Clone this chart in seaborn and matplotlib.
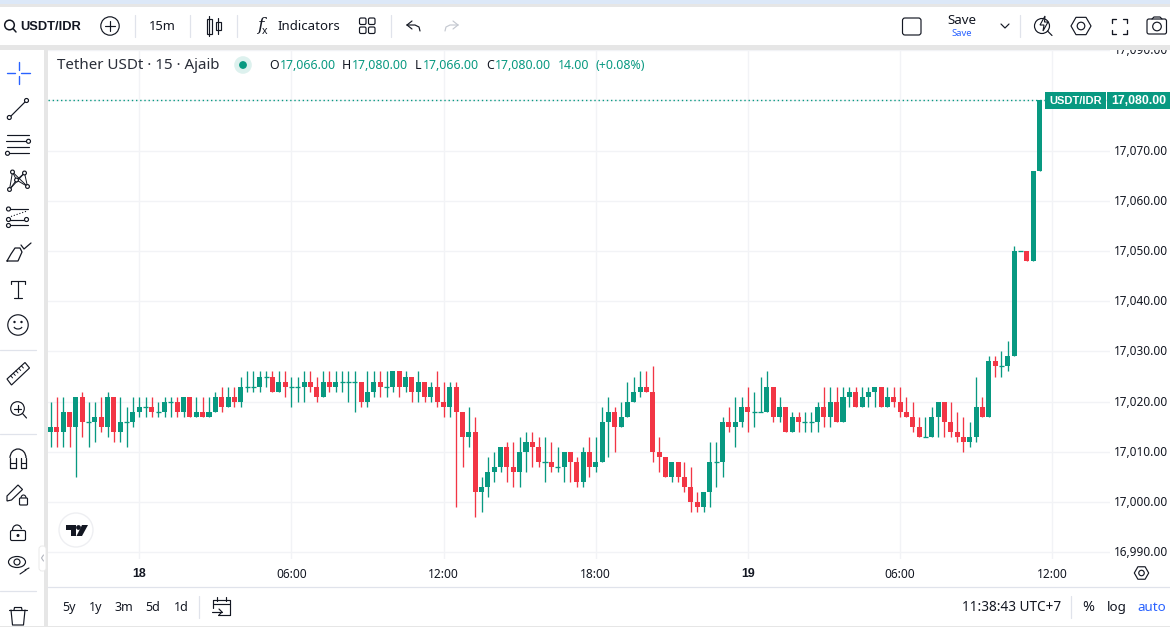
import numpy as np
import pandas as pd
import seaborn as sns
import matplotlib
matplotlib.use("Agg")
import matplotlib.pyplot as plt
from matplotlib.patches import Circle, Rectangle, FancyBboxPatch, Polygon, Ellipse, Arc
from matplotlib.transforms import ScaledTranslation

# ---------- data (offsets from BASE_PRICE) ----------
BASE_PRICE = 17000
closes = [15,14,18,15,21,16,16,17,15,21,
          14,16,16,18,19,19,18,18,20,20,
          18,21,17,18,17,18,21,19,21,20,
          23,23,23,25,25,22,24,23,23,23,
          24,23,21,24,23,24,24,24,24,20,
          22,24,23,23,26,23,25,22,24,21,
          23,20,19,23,18,13,14,2,3,6,
          7,11,7,6,10,12,11,8,8,7,
          7,10,8,4,10,7,8,16,18,15,
          17,20,22,23,22,10,9,5,8,5,
          3,0,-1,2,8,8,16,15,16,19,
          18,18,18,23,17,19,14,17,16,16,
          16,19,17,20,16,21,22,19,21,22,
          23,19,21,20,18,17,15,13,13,17,
          20,16,14,13,12,13,19,17,28,27,
          27,29,50,50,48,66,80]
opens = [14,15,14,18,15,21,16,16,17,15,
         21,14,16,16,18,19,19,18,18,20,
         20,18,21,17,18,17,18,21,19,21,
         20,23,23,23,25,25,22,24,23,23,
         23,24,23,21,24,23,24,24,24,24,
         20,22,24,23,23,26,23,25,22,24,
         21,23,20,19,23,18,13,14,2,3,
         6,7,11,7,6,10,12,11,8,8,
         7,7,10,8,4,10,7,8,16,18,
         15,17,20,22,23,22,10,9,5,8,
         5,3,0,-1,2,8,8,16,15,16,
         19,18,18,18,23,17,19,14,17,16,
         16,16,19,17,20,16,21,22,19,21,
         22,23,19,21,20,18,17,15,13,13,
         17,20,16,14,13,12,13,19,17,28,
         27,27,29,50,50,48,66]
highs = [20,21,21,18,21,22,20,20,21,22,
         21,21,19,21,21,21,21,20,21,21,
         21,21,21,21,21,21,22,23,23,23,
         25,26,26,26,26,26,26,26,25,25,
         26,26,25,26,26,26,26,26,26,24,
         26,26,26,26,26,26,26,25,26,24,
         24,26,24,24,24,18,19,17,5,9,
         10,11,12,12,13,14,14,13,13,12,
         11,10,10,9,11,13,13,19,21,19,
         20,24,25,26,26,27,13,9,8,8,
         8,7,2,2,12,12,17,19,21,21,
         23,22,25,26,23,21,19,18,18,18,
         18,20,23,23,23,23,23,23,23,23,
         23,23,23,23,23,21,20,17,17,19,
         20,20,20,18,17,16,25,21,29,29,
         30,32,51,50,50,66,80]
lows = [11,11,11,11,5,13,11,12,14,13,
        12,12,11,15,17,17,17,17,17,17,
        17,17,17,17,17,17,18,18,19,19,
        19,22,22,22,23,22,22,21,19,20,
        20,22,20,21,22,22,22,20,18,19,
        19,21,21,21,22,21,22,20,20,20,
        20,19,17,17,-1,7,11,-3,-2,1,
        4,6,4,3,3,6,7,7,4,6,
        6,4,4,3,3,5,6,8,9,10,
        15,17,20,21,22,8,6,5,4,4,
        2,-2,-2,-2,-1,3,5,14,11,15,
        14,15,18,18,16,16,14,14,14,14,
        14,14,15,15,16,16,19,19,19,19,
        19,19,19,19,17,17,14,13,13,13,
        13,13,13,12,10,11,12,17,17,25,
        25,26,29,50,48,48,66]

price_ticks = [16990,17000,17010,17020,17030,17040,17050,17060,17070,17080,17090]
time_ticks = [14,38,62,86,110,134,158]
time_labels = ["18","06:00","12:00","18:00","19","06:00","12:00"]
last_price = 17080
symbol = "USDT/IDR"
range_labels = ["5y","1y","3m","5d","1d"]

# ---------- styles ----------
UP, DOWN = "#089981", "#F23645"
INK, GRID, CHROME, BLUE = "#131722", "#F2F3F6", "#E6E6E6", "#2962FF"
BOLD = "Liberation Sans"
W, H = 1170, 627
sns.set_theme(style="white")
plt.rcParams["font.family"] = ["Noto Sans", "DejaVu Sans"]

df = pd.DataFrame({"i": np.arange(len(closes)), "o": opens, "h": highs, "l": lows, "c": closes})
for col in "ohlc":
    df[col] = df[col] + BASE_PRICE
df["bottom"] = df[["o", "c"]].min(axis=1)
df["height"] = (df.c - df.o).abs()
df["rising"] = df.c >= df.o

fig = plt.figure(figsize=(W / 100, H / 100), dpi=100, facecolor="white")

# main chart pane, in pixels: x 48..1110, y 49..559
L, R, T, B = 48, 1110, 49, 559
ax = fig.add_axes([L / W, 1 - B / H, (R - L) / W, (B - T) / H], zorder=1)
px_x = lambda p: (p - 50.5) / 6.34
px_y = lambda p: 17080 + (100.3 - p) / 5.022

for flag, colour in [(True, UP), (False, DOWN)]:
    part = df[df.rising == flag]
    ax.vlines(part.i, part.l, part.h, color=colour, lw=0.95, zorder=3)
    sns.barplot(data=part, x="i", y="height", bottom=part.bottom.values, native_scale=True,
                color=colour, saturation=1, width=0.79, errorbar=None, linewidth=0, ax=ax, zorder=4)
    flat = part[part.height == 0]
    ax.hlines(flat.o, flat.i - 0.4, flat.i + 0.4, color=colour, lw=0.95, zorder=4)

ax.set_xlim(px_x(L), px_x(R))
ax.set_ylim(px_y(B), px_y(T))
ax.set_xlabel(""); ax.set_ylabel("")
ax.set_xticks(time_ticks)
ax.set_xticklabels(time_labels)
for lab in ax.get_xticklabels():
    lab.set_fontsize(8.6); lab.set_color(INK)
    if len(lab.get_text()) == 2:
        lab.set_fontweight("bold"); lab.set_family(BOLD); lab.set_fontsize(8.9)
ax.yaxis.tick_right()
ax.set_yticks(price_ticks)
# the 17,080.00 level is shown by the last-price tag that sits on the axis
ax.set_yticklabels(["" if p == last_price else f"{p:,.2f}" for p in price_ticks], fontsize=8.5, color=INK)
ax.tick_params(axis="both", length=0)
ax.tick_params(axis="x", pad=6.5)
ax.tick_params(axis="y", pad=3)
lift = ScaledTranslation(0, 1 / 100, fig.dpi_scale_trans)
for lab in ax.get_yticklabels():
    lab.set_transform(lab.get_transform() + lift)
ax.grid(True, color=GRID, lw=1)
ax.set_axisbelow(True)
for s in ax.spines.values():
    s.set_visible(False)
ax.axhline(last_price, color=UP, lw=1, ls=(0, (1, 2)), zorder=2)

# ---------- interface chrome, in pixel coordinates ----------
ui = fig.add_axes([0, 0, 1, 1], zorder=5)
ui.set_xlim(0, W); ui.set_ylim(H, 0)
ui.axis("off"); ui.patch.set_alpha(0)

def box(x0, y0, x1, y1, fc, z=1):
    ui.add_patch(Rectangle((x0, y0), x1 - x0, y1 - y0, fc=fc, ec="none", zorder=z))
def ln(xs, ys, c=INK, lw=0.85, z=3, **k):
    ui.plot(xs, ys, color=c, lw=lw, zorder=z, solid_capstyle="round", **k)
def circ(x, y, r, fc="white", ec=INK, lw=0.85, z=3):
    ui.add_patch(Circle((x, y), r, fc=fc, ec=ec, lw=lw, zorder=z))
def rbox(x0, y0, x1, y1, r=2, fc="none", ec=INK, lw=0.85, z=3):
    ui.add_patch(FancyBboxPatch((x0 + r, y0 + r), x1 - x0 - 2 * r, y1 - y0 - 2 * r,
                                boxstyle=f"round,pad={r},rounding_size={r}", fc=fc, ec=ec, lw=lw, zorder=z))
def hexa(x, y, r, lw=0.85):
    a = np.deg2rad(np.arange(0, 360, 60))
    ui.add_patch(Polygon(np.c_[x + r * np.cos(a), y + r * np.sin(a)], closed=True, fc="none", ec=INK, lw=lw, zorder=3, joinstyle="round"))
    circ(x, y, r * 0.38, fc="none", lw=lw)
def txt(x, y, s, size=9, c=INK, ha="left", **k):
    ui.text(x, y + 1, s, fontsize=size, color=c, ha=ha, va="center", zorder=4, **k)

box(0, 0, W, 3.5, "#DCE8F8")
box(0, 3.5, W, 7, CHROME)
box(0, 7, W, 45, "white")
box(0, 45, W, 49.5, CHROME)
box(0, 49.5, 44, 627, "white")
box(44, 49.5, 48, 627, CHROME)
box(48, 587, W, 626, "white")
ln([48, W], [587.3, 587.3], c="#E0E3EB", lw=0.9)
box(0, 626, W, 627, CHROME)

# top toolbar
circ(9.5, 25, 4.8, fc="none", lw=1.1); ln([13, 16], [28.5, 32], lw=1.1)
txt(20, 25.5, symbol, 9.3, weight="bold", family=BOLD)
circ(110, 26, 9.2, fc="none"); ln([105, 115], [26, 26]); ln([110, 110], [21, 31])
for xs in (134.5, 189.5, 236.5, 390.5, 1019.5):
    ln([xs, xs], [15, 37], c="#E0E3EB", lw=0.9)
txt(162, 25.5, "15m", 9.3, ha="center")
ui.add_patch(Rectangle((207, 19), 4.5, 15, fc="none", ec=INK, lw=0.85, zorder=3)); ln([209.2, 209.2], [16, 36])
ui.add_patch(Rectangle((216, 22), 4.5, 8, fc="none", ec=INK, lw=0.85, zorder=3)); ln([218.2, 218.2], [18, 34])
txt(257, 24.5, "f", 12.5, family="DejaVu Serif", style="italic"); txt(262, 30, "x", 7.5)
txt(277, 25.5, "Indicators", 9.5)
for x0 in (359.5, 368.5):
    for y0 in (18, 27):
        rbox(x0, y0, x0 + 6.5, y0 + 6.5, r=1.5)
ln([407, 412], [25, 21]); ln([407, 412], [25, 29]); ln([407, 415, 419, 420], [25, 25, 27, 31])
ln([458, 453], [25, 21], c="#C4C8D0"); ln([458, 453], [25, 29], c="#C4C8D0"); ln([458, 450, 446, 445], [25, 25, 27, 31], c="#C4C8D0")
rbox(902.5, 18, 921, 35, r=2.5)
txt(962, 20, "Save", 9.6, ha="center")
txt(962, 33, "Save", 6.8, c=BLUE, ha="center")
ln([1001, 1005, 1009], [24, 28, 24])
circ(1042, 26, 7.5, fc="none"); ln([1047.5, 1052], [31, 35.5])
ui.add_patch(Polygon([[1045, 16], [1040, 25], [1044, 25], [1043, 31], [1048, 22], [1044.5, 22]], closed=True, fc="white", ec=INK, lw=0.8, zorder=4))
hexa(1081, 26, 10)
for sx, sy in [(-1, -1), (1, -1), (-1, 1), (1, 1)]:
    cx, cy = 1119 + sx * 7.5, 26 + sy * 7.5
    ln([cx, cx, cx - sx * 4], [cy - sy * 4, cy, cy], lw=0.95)
rbox(1147, 19, 1166.5, 34, r=2)
circ(1157, 26.5, 4.3, fc="none")
ln([1152, 1154, 1160, 1162], [19, 17, 17, 19])

# legend
txt(57, 64.5, "Tether USDt · 15 · Ajaib", 10.9, c="#2A2E39")
circ(243, 65, 8.8, fc="#DDF1EE", ec="none"); circ(243, 65, 3.9, fc=UP, ec="none")
for x, s, c in [(269, "O", INK), (279.5, "17,066.00", UP), (342, "H", INK), (352, "17,080.00", UP),
                (415, "L", INK), (423, "17,066.00", UP), (486, "C", INK), (495, "17,080.00", UP),
                (558, "14.00", UP), (595, "(+0.08%)", UP)]:
    txt(x, 64.5, s, 8.9, c=c)

# last-price tags
box(1045, 92, 1106, 109, UP, z=2)
box(1107, 92, W, 109, UP, z=2)
txt(1075.5, 99.5, symbol, 8.0, c="white", ha="center", weight="bold", family=BOLD)
txt(1139, 99.5, f"{last_price:,.2f}", 8.9, c="white", ha="center", weight="bold", family=BOLD)

# logo
circ(76, 530, 17, fc="white", ec="#EEEFF2", lw=1)
ui.add_patch(Polygon([[66, 525], [76, 525], [76, 536], [71, 536], [71, 530], [66, 530]], closed=True, fc=INK, ec="none", zorder=4))
circ(78.5, 527.5, 2.4, fc=INK, ec="none", z=4)
ui.add_patch(Polygon([[82, 525], [88, 525], [82, 536], [76.5, 536]], closed=True, fc=INK, ec="none", zorder=4))

# left toolbar
ln([7, 15], [73, 73], c=BLUE, lw=1); ln([21, 30], [73, 73], c=BLUE, lw=1)
ln([18.5, 18.5], [62, 70], c=BLUE, lw=1); ln([18.5, 18.5], [76, 84], c=BLUE, lw=1)
ln([9.5, 26.5], [117.5, 100.5]); circ(9.3, 117.5, 2); circ(26.5, 100.5, 2)
for y in (135, 147): ln([7, 29], [y, y])
ln([6, 29], [141, 141]); circ(28.5, 141.3, 2)
ln([7, 29], [153, 153]); circ(7.5, 153.3, 2)
net = [(9.5, 189.5), (12.5, 172), (16.5, 180), (24.5, 173), (27.5, 186.5)]
for a, b in [(0, 1), (0, 2), (1, 2), (1, 4), (2, 3), (3, 4), (0, 3), (2, 4)]:
    ln([net[a][0], net[b][0]], [net[a][1], net[b][1]], lw=0.7)
for x, y in net: circ(x, y, 1.9)
ln([8, 28], [209, 209]); circ(8.5, 209, 2)
ln([8, 26], [219.5, 219.5]); circ(8.5, 219.5, 2); circ(26.5, 219.5, 2)
ln([8, 28], [225, 225]); circ(8.5, 225.5, 2)
ln([11, 27], [216.5, 211], ls=":", lw=0.8)
ln([7, 11, 15, 20, 22, 18, 7], [261, 254, 248, 248, 252, 261, 261], lw=0.9)
ln([21, 24, 31], [245, 249, 243], lw=0.9)
ln([11, 25], [281, 281]); ln([18, 18], [281, 298]); ln([14, 22], [298, 298]); ln([11, 11], [281, 284]); ln([25, 25], [281, 284])
circ(18, 325, 10.2, fc="none"); circ(14.5, 322, 0.6, fc=INK); circ(21.5, 322, 0.6, fc=INK)
ui.add_patch(Arc((18, 325.5), 9, 7, theta1=20, theta2=160, ec=INK, lw=0.85, zorder=3))
for y in (350, 434, 591): ln([0, 36], [y, y], c="#E0E3EB", lw=0.9)
ui.add_patch(Polygon([[7, 379], [25, 362.5], [29.5, 368], [11.5, 385]], closed=True, fc="none", ec=INK, lw=0.85, zorder=3))
for t in (0.2, 0.35, 0.5, 0.65, 0.8):
    bx, by = 7 + 18 * t, 379 - 16.5 * t
    ln([bx, bx + 2], [by, by + 2.2], lw=0.7)
circ(17.5, 408.5, 6.8, fc="none"); ln([22.5, 26.5], [413.5, 418]); ln([14, 21], [408.5, 408.5]); ln([17.5, 17.5], [405, 412])
ui.add_patch(Arc((18, 458), 16, 18, theta1=180, theta2=360, ec=INK, lw=0.9, zorder=3))
ln([10, 10, 15.5, 15.5], [458, 468, 468, 458], lw=0.9); ln([20.5, 20.5, 26, 26], [458, 468, 468, 458], lw=0.9)
ln([10, 15.5], [463, 463], lw=0.8); ln([20.5, 26], [463, 463], lw=0.8)
ui.add_patch(Polygon([[7, 496], [18, 485], [22.5, 489.5], [11.5, 500], [7, 501]], closed=True, fc="none", ec=INK, lw=0.85, zorder=3))
rbox(19.5, 498, 27.5, 505, r=1); ui.add_patch(Arc((23.5, 498), 5, 6, theta1=180, theta2=360, ec=INK, lw=0.8, zorder=3))
rbox(10.5, 530.5, 25.5, 540.5, r=1.5); circ(18, 535.5, 0.9, fc=INK)
ui.add_patch(Arc((17, 530), 9, 10, theta1=180, theta2=350, ec=INK, lw=0.85, zorder=3))
ui.add_patch(Ellipse((17, 562), 17, 11, fc="none", ec=INK, lw=0.85, zorder=3)); circ(17, 562, 3, fc="none")
ln([20, 26], [574, 570], lw=0.8); ln([25, 29], [570, 568], lw=0.8)
ln([9, 27], [610, 610]); ln([14, 14.5, 21.5, 22], [610, 607.5, 607.5, 610])
ln([11, 12.5, 23.5, 25], [610, 625, 625, 610])
rbox(39, 546, 46, 571, r=3, fc="white", ec="#EAEAEA", lw=0.7, z=5)
ln([43.5, 41.5, 43.5], [555, 558, 561], c="#B2B5BE", lw=0.8, z=6)

# bottom toolbar
for x, s in zip((69, 96, 124, 153, 181), range_labels):
    txt(x, 606.5, s, 9.0, ha="center")
ln([198.5, 198.5], [596, 618], c="#E0E3EB", lw=0.9)
ln([213, 230, 230, 218], [600, 600, 614.5, 614.5])
ln([213, 213], [600, 608]); ln([217, 217], [597, 601]); ln([226, 226], [597, 601]); ln([213, 230], [604, 604])
ln([212, 222], [612, 612]); ln([219, 222, 219], [609, 612, 615])
hexa(1141.5, 573, 7.2)
txt(962, 606.5, "11:38:43 UTC+7", 9.8)
ln([1070.5, 1070.5], [596, 618], c="#E0E3EB", lw=0.9)
txt(1088, 606.5, "%", 10.3, ha="center")
txt(1117, 606.5, "log", 9.6, ha="center")
txt(1152, 606.5, "auto", 9.6, c=BLUE, ha="center")

fig.savefig("out.png", dpi=100)
